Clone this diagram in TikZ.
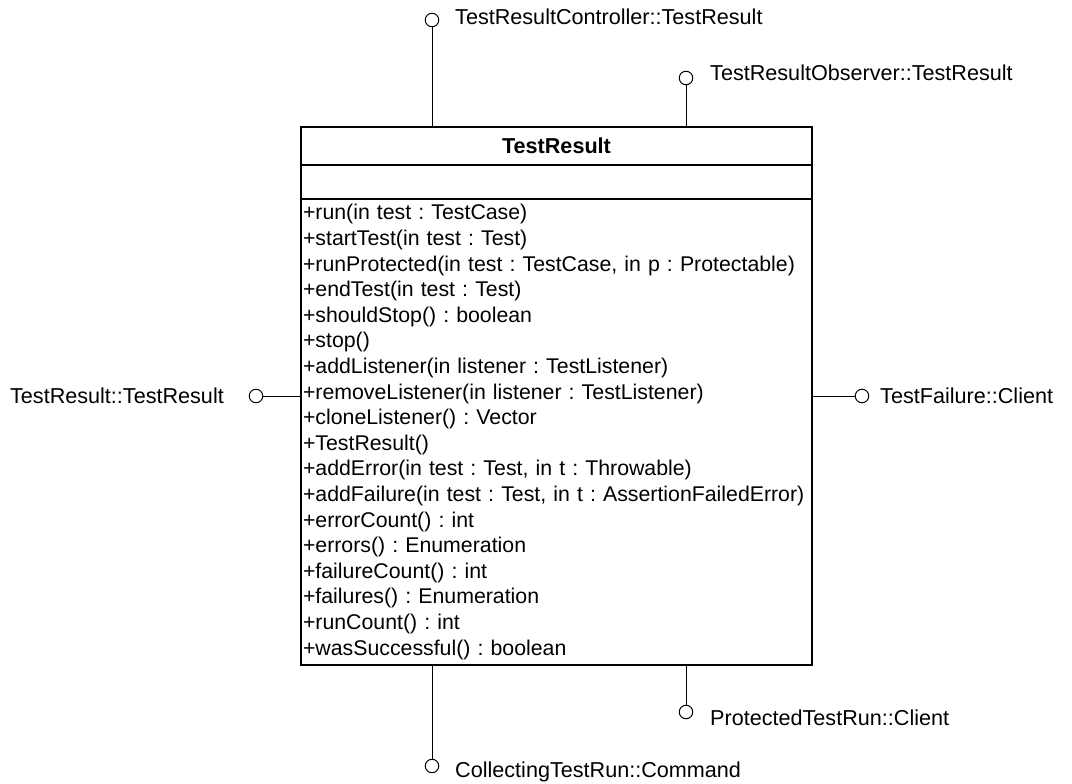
\documentclass[tikz,border=0pt]{standalone}
\usepackage{fontspec}
\setmainfont{Liberation Sans}
\usetikzlibrary{positioning}
\tikzset{
	umlbox/.style={draw, line width=1.5pt, outer sep=0, inner xsep=2pt, inner ysep=0,
		text width=507pt, minimum width=511pt},
	lolli/.style={draw, circle, line width=1pt, minimum size=13.5pt, inner sep=0, outer sep=0},
	ifc/.style={line width=1pt},
	ifcname/.style={inner sep=0}
}

\begin{document}
\frenchspacing\hyphenpenalty=10000
\begin{tikzpicture}[x=1pt, y=-1pt, font=\fontsize{21.6}{25.6}\selectfont]
	\useasboundingbox (0,0) rectangle (1072,784);
	% the class
	\node[umlbox, minimum height=38pt, align=center, anchor=north west] (title) at (301,127) {\textbf{TestResult}};
	\node[umlbox, minimum height=34pt, below=0pt of title] (attrs) {};
	\node[umlbox, minimum height=466pt, align=left, below=0pt of attrs,
		font=\fontsize{21.3}{25.6}\selectfont] (ops) {%
		+run(in test : TestCase)\\
		+startTest(in test : Test)\\
		+runProtected(in test : TestCase, in p : Protectable)\\
		+endTest(in test : Test)\\
		+shouldStop() : boolean\\
		+stop()\\
		+addListener(in listener : TestListener)\\
		+removeListener(in listener : TestListener)\\
		+cloneListener() : Vector\\
		+TestResult()\\
		+addError(in test : Test, in t : Throwable)\\
		+addFailure(in test : Test, in t : AssertionFailedError)\\
		+errorCount() : int\\
		+errors() : Enumeration\\
		+failureCount() : int\\
		+failures() : Enumeration\\
		+runCount() : int\\
		+wasSuccessful() : boolean};
	
	% interfaces
	\node[lolli] (ctrl) at (432,20) {};
	\node[ifcname, anchor=west] (ctrlname) at (455,17) {TestResultController::TestResult};
	\node[lolli] (obs) at (686,78) {};
	\node[ifcname, anchor=west] (obsname) at (710,73) {TestResultObserver::TestResult};
	\node[lolli] (self) at (256,396) {};
	\node[ifcname, anchor=east] (selfname) at (224,396) {TestResult::TestResult};
	\node[lolli] (fail) at (862,396) {};
	\node[ifcname, anchor=west] (failname) at (880,396) {TestFailure::Client};
	\node[lolli] (prot) at (686,712) {};
	\node[ifcname, anchor=west] (protname) at (710,718) {ProtectedTestRun::Client};
	\node[lolli] (coll) at (432,766) {};
	\node[ifcname, anchor=west] (collname) at (455,772) {CollectingTestRun::Command};
	
	\draw[ifc] (ctrl) -- (ctrl |- title.north);
	\draw[ifc] (obs) -- (obs |- title.north);
	\draw[ifc] (self) -- (self -| ops.west);
	\draw[ifc] (fail) -- (fail -| ops.east);
	\draw[ifc] (prot) -- (prot |- ops.south);
	\draw[ifc] (coll) -- (coll |- ops.south);
\end{tikzpicture}
\end{document}
